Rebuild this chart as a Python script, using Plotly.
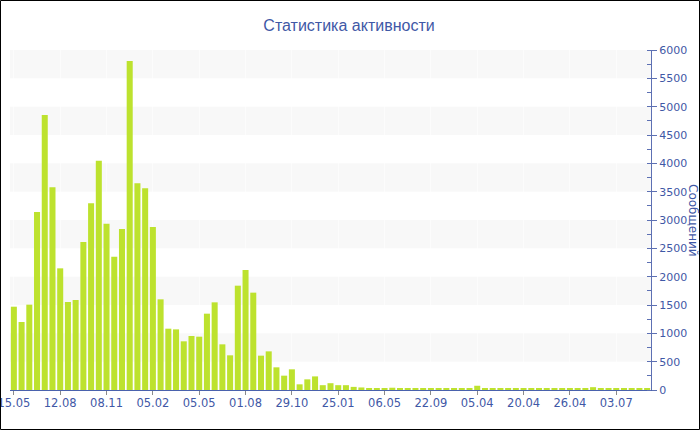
import plotly.graph_objects as go

# ---- data ----
bar_index = list(range(83))
messages = [
    1470, 1200, 1506, 3141, 4853, 3576, 2147, 1553, 1588, 2612,
    3294, 4047, 2935, 2353, 2841, 5806, 3647, 3559, 2876, 1600,
    1082, 1070, 859, 953, 941, 1347, 1547, 806, 612, 1841,
    2118, 1718, 606, 682, 400, 253, 365, 100, 188, 240,
    85, 120, 85, 85, 55, 45, 35, 30, 35, 40,
    30, 30, 35, 30, 35, 30, 30, 30, 25, 30,
    75, 30, 25, 25, 25, 25, 25, 25, 30, 30,
    30, 30, 30, 35, 35, 50, 25, 25, 25, 20,
    20, 20, 20,
]
tick_positions = [0, 6, 12, 18, 24, 30, 36, 42, 48, 54, 60, 66, 72, 78]
tick_labels = ["15.05", "12.08", "08.11", "05.02", "05.05", "01.08", "29.10",
               "25.01", "06.05", "22.09", "05.04", "20.04", "26.04", "03.07"]
y_ticks = list(range(0, 6001, 500))

# ---- layout geometry ----
W, H = 700, 430
ML, MR, MT, MB = 10, 49, 50, 40
PW, PH = W - ML - MR, H - MT - MB

def px_to_paper_x(px):
    return (px - ML) / PW

def px_to_paper_y(py):
    return (H - MB - py) / PH

BLUE = "#3f58a6"
AXIS = "#5d70b3"

fig = go.Figure()
fig.add_trace(go.Bar(
    x=bar_index, y=messages,
    marker=dict(color="#bde22e", line=dict(width=0)),
    hoverinfo="x+y",
))

shapes = []
# alternating bands
for lo in range(500, 6000, 1000):
    shapes.append(dict(type="rect", xref="paper", yref="y", x0=0, x1=1,
                       y0=lo, y1=lo + 500, fillcolor="#f8f8f8",
                       line=dict(width=0), layer="below"))
# figure border
shapes.append(dict(type="rect", xref="paper", yref="paper",
                   x0=px_to_paper_x(0.5), x1=px_to_paper_x(W - 0.5),
                   y0=px_to_paper_y(H - 0.5), y1=px_to_paper_y(0.5),
                   line=dict(color="#000000", width=1), fillcolor="rgba(0,0,0,0)",
                   layer="above"))

fig.update_layout(
    width=W, height=H,
    margin=dict(l=ML, r=MR, t=MT, b=MB, pad=0, autoexpand=False),
    paper_bgcolor="white", plot_bgcolor="white",
    font=dict(family="DejaVu Sans", size=11, color=BLUE),
    title=dict(text="Статистика активности", x=px_to_paper_x(349), xref="paper",
               y=1 - 25 / H, yref="container", xanchor="center", yanchor="middle",
               font=dict(family="Liberation Sans", size=16, color=BLUE)),
    showlegend=False,
    bargap=0.22,
    shapes=shapes,
    xaxis=dict(
        range=[-0.5, len(bar_index) - 0.5],
        tickmode="array", tickvals=tick_positions, ticktext=tick_labels,
        ticks="outside", ticklen=4, tickcolor="#8a8a8a",
        showline=True, linecolor="#4a62ad", linewidth=1,
        showgrid=True, gridcolor="rgba(255,255,255,0.6)", gridwidth=1,
        zeroline=False, fixedrange=True, automargin=False,
        ticklabeloverflow="allow", ticklabelstandoff=-2,
        tickfont=dict(family="DejaVu Sans", size=11.5, color=BLUE),
    ),
    yaxis=dict(
        side="right", range=[0, 6000],
        tickmode="array", tickvals=y_ticks,
        ticks="outside", ticklen=5, tickcolor=AXIS,
        minor=dict(dtick=250, ticks="inside", ticklen=4, tickcolor=AXIS, showgrid=False),
        showline=True, linecolor=AXIS, linewidth=1,
        showgrid=False, zeroline=False, fixedrange=True, automargin=False,
        ticklabeloverflow="allow",
        tickfont=dict(family="DejaVu Sans", size=11, color=BLUE),
    ),
    annotations=[dict(
        text="Сообщений", textangle=90, showarrow=False,
        xref="paper", yref="paper",
        x=px_to_paper_x(693), y=0.5, xanchor="center", yanchor="middle",
        font=dict(family="DejaVu Sans", size=12, color=BLUE),
    )],
)

fig.write_html(
    "out.html",
    config={"displayModeBar": False},
    post_script="document.body.style.margin='0';document.body.style.overflow='hidden';",
)
